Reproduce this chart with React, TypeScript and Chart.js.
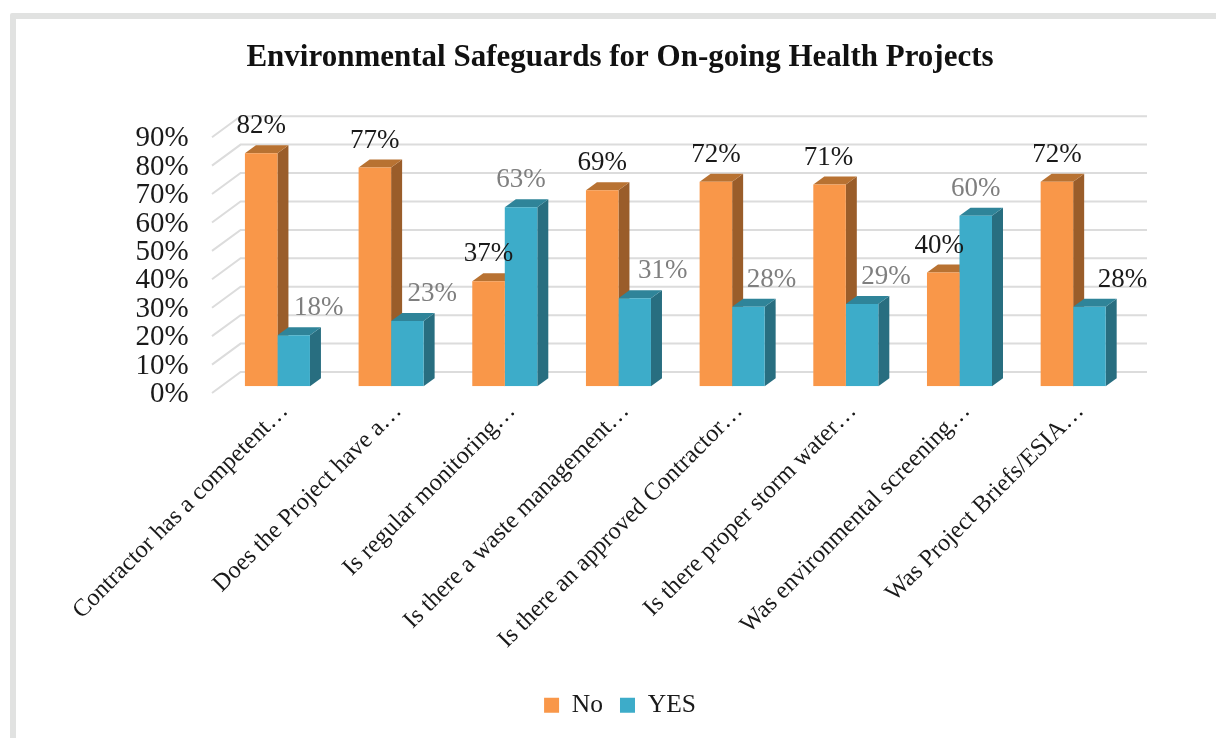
import React, { useEffect, useRef } from "react";
import { Chart, registerables } from "chart.js";

Chart.register(...registerables);

const categories = [
  "Contractor has a competent…",
  "Does the Project have a…",
  "Is regular monitoring…",
  "Is there a waste management…",
  "Is there an approved Contractor…",
  "Is there proper storm water…",
  "Was environmental screening…",
  "Was Project Briefs/ESIA…",
];
const noValues = [82, 77, 37, 69, 72, 71, 40, 72];
const yesValues = [18, 23, 63, 31, 28, 29, 60, 28];
const yTicks = [0, 10, 20, 30, 40, 50, 60, 70, 80, 90];

const FONT = '"Liberation Serif", serif';
const faces = [
  { front: "#F99749", top: "#B87232", side: "#9A5D2A" },
  { front: "#3DACC9", top: "#2F8499", side: "#286E80" },
];
const labelColors = [
  ["#1a1a1a", "#1a1a1a", "#1a1a1a", "#1a1a1a", "#1a1a1a", "#1a1a1a", "#1a1a1a", "#1a1a1a"],
  ["#7f7f7f", "#7f7f7f", "#7f7f7f", "#7f7f7f", "#7f7f7f", "#7f7f7f", "#7f7f7f", "#1a1a1a"],
];
const labelNudge = [
  [0, 0, 0, 0, 0, -1, -4, 0],
  [25, 25, 0, 28, 23, 24, 0, 33],
];
const DEPTH_X = 11;
const DEPTH_Y = 8;
const BAR_SHIFT_Y = 8.2;

const bars3d = {
  id: "bars3d",
  beforeDatasetsDraw(chart: any) {
    const { ctx, chartArea, scales } = chart;
    const y = scales.y;
    ctx.save();
    ctx.strokeStyle = "#dcdcdc";
    ctx.lineWidth = 2;
    for (const t of yTicks) {
      const py = y.getPixelForValue(t);
      ctx.beginPath();
      ctx.moveTo(chartArea.left - 8.6, py - 1.5);
      ctx.lineTo(chartArea.left + 20, py - 22.5);
      ctx.lineTo(1147, py - 22.5);
      ctx.stroke();
    }
    ctx.restore();

    ctx.save();
    ctx.translate(0, -BAR_SHIFT_Y);
    [0, 1].forEach((ds) => {
      chart.getDatasetMeta(ds).data.forEach((bar: any) => {
        const half = bar.width / 2;
        const l = bar.x - half;
        const r = bar.x + half;
        ctx.fillStyle = faces[ds].side;
        ctx.beginPath();
        ctx.moveTo(r, bar.y);
        ctx.lineTo(r + DEPTH_X, bar.y - DEPTH_Y);
        ctx.lineTo(r + DEPTH_X, bar.base - DEPTH_Y);
        ctx.lineTo(r, bar.base);
        ctx.closePath();
        ctx.fill();
        ctx.fillStyle = faces[ds].top;
        ctx.beginPath();
        ctx.moveTo(l, bar.y);
        ctx.lineTo(l + DEPTH_X, bar.y - DEPTH_Y);
        ctx.lineTo(r + DEPTH_X, bar.y - DEPTH_Y);
        ctx.lineTo(r, bar.y);
        ctx.closePath();
        ctx.fill();
      });
    });
  },
  afterDatasetsDraw(chart: any) {
    const { ctx } = chart;
    ctx.font = `27px ${FONT}`;
    ctx.textAlign = "center";
    ctx.textBaseline = "middle";
    [0, 1].forEach((ds) => {
      chart.getDatasetMeta(ds).data.forEach((bar: any, i: number) => {
        const v = (ds === 0 ? noValues : yesValues)[i];
        ctx.fillStyle = labelColors[ds][i];
        ctx.fillText(`${v}%`, bar.x + labelNudge[ds][i], bar.y - 27);
      });
    });
    ctx.restore();
  },
};

export default function App() {
  const ref = useRef<HTMLCanvasElement | null>(null);
  useEffect(() => {
    const chart = new Chart(ref.current as HTMLCanvasElement, {
      type: "bar",
      data: {
        labels: categories,
        datasets: [
          { label: "No", data: noValues, backgroundColor: faces[0].front, borderWidth: 0 },
          { label: "YES", data: yesValues, backgroundColor: faces[1].front, borderWidth: 0 },
        ],
      },
      plugins: [bars3d],
      options: {
        responsive: false,
        animation: false,
        layout: { padding: { left: 110, right: 86, top: 0, bottom: 10 } },
        datasets: { bar: { categoryPercentage: 0.572, barPercentage: 1 } },
        plugins: {
          tooltip: { enabled: false },
          title: {
            display: true,
            text: "Environmental Safeguards for On-going Health Projects",
            color: "#111111",
            font: { family: FONT, size: 31, weight: "bold", lineHeight: 1.2 },
            padding: { top: 39, bottom: 62.5 },
          },
          legend: {
            position: "bottom",
            labels: {
              boxWidth: 15,
              boxHeight: 15,
              padding: 17,
              color: "#1a1a1a",
              font: { family: FONT, size: 25.5 },
            },
          },
        },
        scales: {
          x: {
            grid: { display: false },
            border: { display: false },
            afterFit: (s: any) => {
              s.height = 281;
            },
            ticks: {
              autoSkip: false,
              minRotation: 45,
              maxRotation: 45,
              labelOffset: 7,
              padding: -5.5,
              color: "#1a1a1a",
              font: { family: FONT, size: 24.5 },
            },
          },
          y: {
            min: 0,
            max: 90,
            grid: { display: false },
            border: { display: false },
            afterFit: (s: any) => {
              s.width = 110.6;
            },
            ticks: {
              stepSize: 10,
              autoSkip: false,
              padding: 24,
              color: "#1a1a1a",
              font: { family: FONT, size: 29 },
              callback: (v: any) => `${v}%`,
            },
          },
        },
      },
    } as any);
    return () => chart.destroy();
  }, []);

  return (
    <div style={{ position: "fixed", left: 0, top: 0, width: 1216, height: 738, overflow: "hidden", background: "#fff" }}>
      <div
        style={{
          position: "absolute",
          left: 10,
          top: 13,
          width: 2000,
          height: 2000,
          border: "6px solid #e1e2e1",
          borderRadius: 2,
          boxSizing: "border-box",
        }}
      />
      <canvas ref={ref} width={1216} height={738} style={{ position: "absolute", left: 0, top: 0, display: "block" }} />
    </div>
  );
}
